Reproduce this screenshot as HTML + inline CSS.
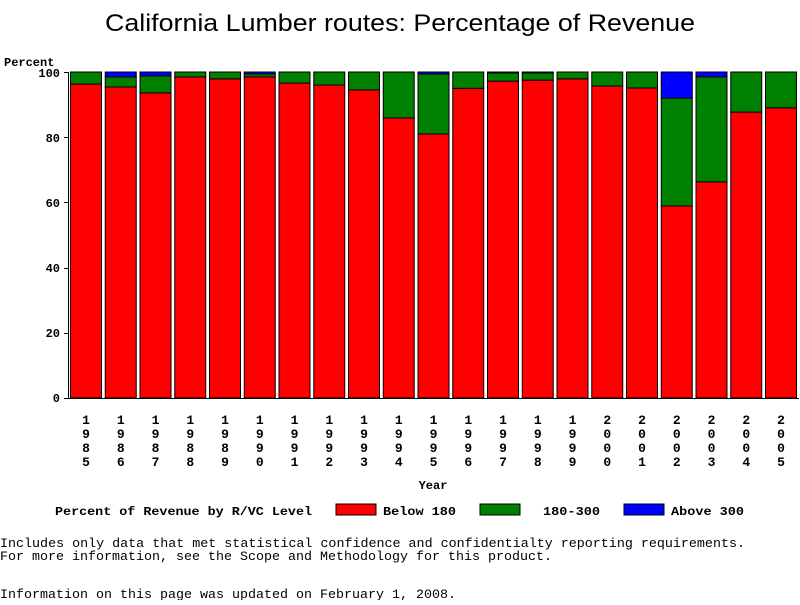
<!DOCTYPE html><html><head><style>body{margin:0;background:#fff;width:800px;height:600px;overflow:hidden}</style></head><body>
<svg width="800" height="600" xmlns="http://www.w3.org/2000/svg" font-family="Liberation Mono, monospace" font-size="12" font-weight="bold">
<text x="400" y="31" text-anchor="middle" font-family="Liberation Sans, sans-serif" font-weight="normal" font-size="24" textLength="590" lengthAdjust="spacingAndGlyphs">California Lumber routes: Percentage of Revenue</text>
<text x="4" y="66">Percent</text>
<g text-anchor="end">
<text x="60" y="77">100</text><text x="60" y="207">60</text><text x="60" y="142">80</text><text x="60" y="272">40</text><text x="60" y="337">20</text><text x="60" y="402">0</text>
</g>
<g stroke="#000" stroke-width="1">
<line x1="64" y1="72.5" x2="69" y2="72.5"/><line x1="64" y1="137.5" x2="69" y2="137.5"/><line x1="64" y1="202.5" x2="69" y2="202.5"/><line x1="64" y1="268.5" x2="69" y2="268.5"/><line x1="64" y1="333.5" x2="69" y2="333.5"/><line x1="64" y1="398.5" x2="799" y2="398.5"/>
<line x1="68.5" y1="72" x2="68.5" y2="399"/>
</g>
<g id="bars" stroke="#000" stroke-width="1"></g>
<g id="labels" text-anchor="middle" font-size="13"></g>
<text x="433" y="489" text-anchor="middle">Year</text>
<text x="55" y="515" textLength="257" lengthAdjust="spacingAndGlyphs">Percent of Revenue by R/VC Level</text>
<rect x="336" y="504" width="40" height="11" fill="#f00" stroke="#000"/><text x="383" y="515" textLength="73" lengthAdjust="spacingAndGlyphs">Below 180</text>
<rect x="480" y="504" width="40" height="11" fill="#008000" stroke="#000"/><text x="543" y="515" textLength="57" lengthAdjust="spacingAndGlyphs">180-300</text>
<rect x="624" y="504" width="40" height="11" fill="#00f" stroke="#000"/><text x="671" y="515" textLength="73" lengthAdjust="spacingAndGlyphs">Above 300</text>
<g font-weight="normal" font-size="12.5">
<text x="0" y="547" textLength="745" lengthAdjust="spacingAndGlyphs">Includes only data that met statistical confidence and confidentialty reporting requirements.</text>
<text x="0" y="560" textLength="552" lengthAdjust="spacingAndGlyphs">For more information, see the Scope and Methodology for this product.</text>
<text x="0" y="598" textLength="456" lengthAdjust="spacingAndGlyphs">Information on this page was updated on February 1, 2008.</text>
</g>
</svg>
<script>
var d=[[96.3,100,100],[95.4,98.5,100],[93.6,98.8,100],[98.5,100,100],[97.9,100,100],[98.5,99.4,100],[96.6,100,100],[96,100,100],[94.5,100,100],[85.9,100,100],[81,99.4,100],[95,100,100],[97.2,99.7,100],[97.5,99.7,100],[97.9,100,100],[95.7,100,100],[95.1,100,100],[58.9,92,100],[66.3,98.5,100],[87.7,100,100],[89,100,100]];
var ns="http://www.w3.org/2000/svg",g=document.getElementById('bars'),L=document.getElementById('labels');
function y(v){return 398-v*3.26;}
d.forEach(function(r,i){var x=70+i*34.75,w=31,c=['#f00','#008000','#00f'],prev=0;
for(var k=0;k<3;k++){var v=r[k];if(v-prev>0.05){var e=document.createElementNS(ns,'rect');e.setAttribute('x',x+0.5);e.setAttribute('width',w);e.setAttribute('y',y(v));e.setAttribute('height',y(prev)-y(v));e.setAttribute('fill',c[k]);g.appendChild(e);}prev=v;}
var yr=String(1985+i);for(var j=0;j<4;j++){var t=document.createElementNS(ns,'text');t.setAttribute('x',x+16);t.setAttribute('y',424+j*14);t.textContent=yr[j];L.appendChild(t);}});
</script>
</body></html>
